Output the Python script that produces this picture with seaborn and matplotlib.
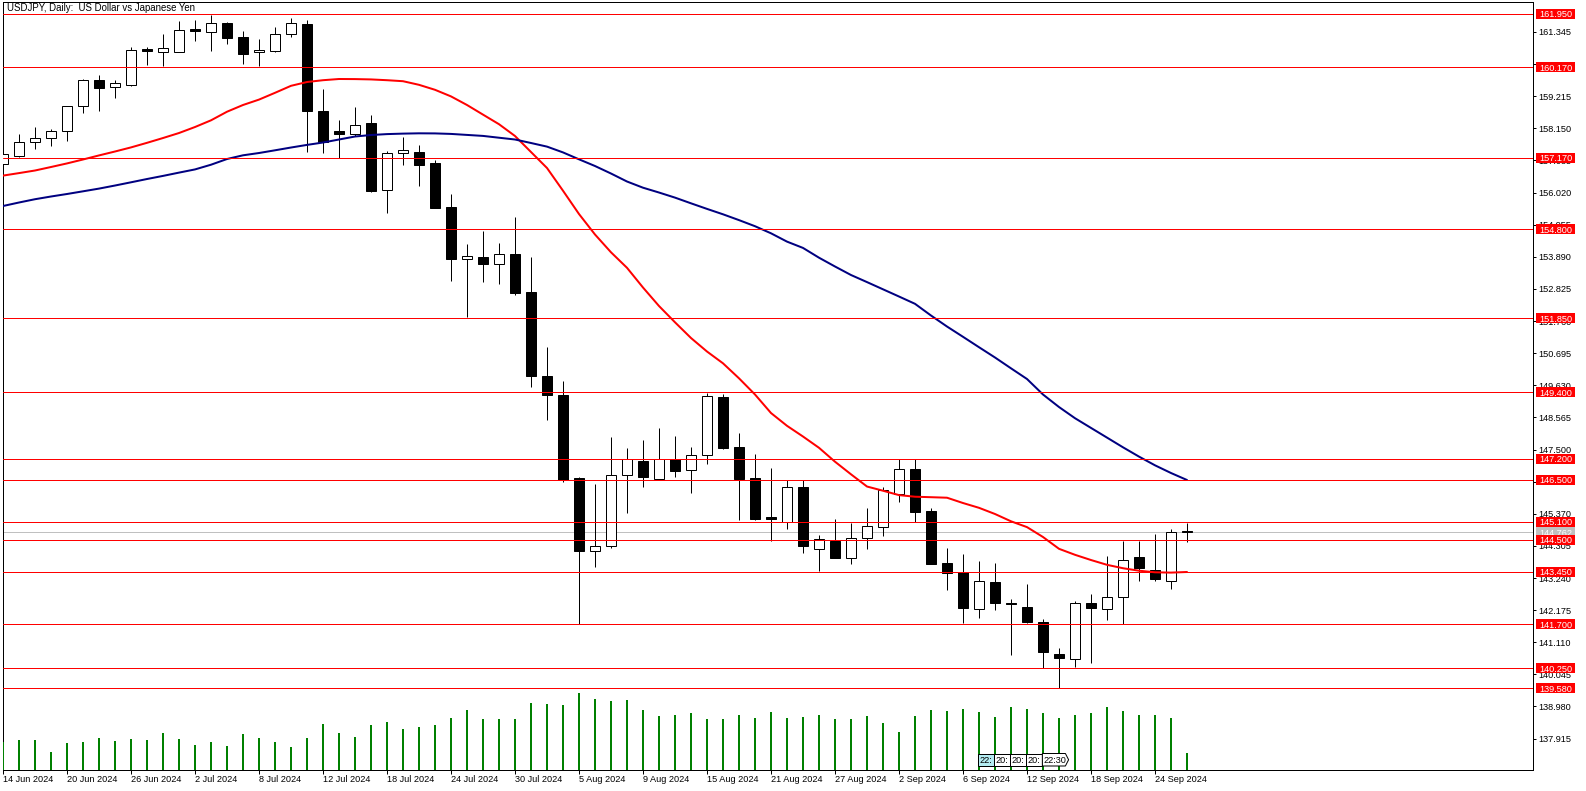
import numpy as np
import pandas as pd
import matplotlib
matplotlib.use("Agg")
import matplotlib.pyplot as plt
import matplotlib.patches as mpatches
from matplotlib.transforms import blended_transform_factory
import seaborn as sns

# ---------------- data ----------------
title = "USDJPY, Daily:  US Dollar vs Japanese Yen"

date_labels = ['14 Jun 2024', '20 Jun 2024', '26 Jun 2024', '2 Jul 2024', '8 Jul 2024',
               '12 Jul 2024', '18 Jul 2024', '24 Jul 2024', '30 Jul 2024', '5 Aug 2024',
               '9 Aug 2024', '15 Aug 2024', '21 Aug 2024', '27 Aug 2024', '2 Sep 2024',
               '6 Sep 2024', '12 Sep 2024', '18 Sep 2024', '24 Sep 2024']
date_label_bars = [0, 4, 8, 12, 16, 20, 24, 28, 32, 36, 40, 44, 48, 52, 56, 60, 64, 68, 72]

open_ = [156.96, 157.22, 157.69, 157.82, 158.05, 158.88, 159.74, 159.51, 159.60, 160.75,
         160.67, 160.69, 161.42, 161.35, 161.65, 161.18, 160.67, 160.72, 161.27, 161.61,
         158.72, 158.06, 157.97, 158.33, 156.11, 157.32, 157.36, 157.00, 155.54, 153.81,
         153.88, 153.64, 153.98, 152.72, 149.94, 149.31, 146.55, 144.13, 144.29, 146.65,
         147.12, 146.53, 147.19, 146.81, 147.31, 149.24, 147.58, 146.55, 145.23, 145.11,
         146.25, 144.19, 144.47, 143.89, 144.56, 144.92, 146.02, 146.84, 145.45, 143.74,
         143.45, 142.22, 143.10, 142.40, 142.28, 141.77, 140.71, 140.56, 142.41, 142.22,
         142.60, 143.93, 143.50, 143.15, 144.77]
high = [157.56, 157.95, 158.20, 158.12, 158.90, 159.80, 159.91, 159.75, 160.85, 160.84,
        161.28, 161.71, 161.74, 161.91, 161.67, 161.38, 161.11, 161.52, 161.82, 161.74,
        159.44, 158.43, 158.85, 158.59, 157.40, 157.86, 157.60, 157.10, 155.97, 154.31,
        154.76, 154.35, 155.21, 153.88, 150.91, 149.77, 146.58, 146.36, 147.92, 147.56,
        147.82, 148.21, 147.95, 147.58, 149.36, 149.33, 148.05, 147.35, 146.89, 146.49,
        146.49, 144.67, 145.20, 145.06, 145.56, 146.25, 147.19, 147.19, 145.55, 144.23,
        144.04, 143.79, 143.73, 142.53, 143.04, 141.87, 140.91, 142.48, 142.71, 143.97,
        144.48, 144.48, 144.71, 144.87, 145.07]
low = [156.83, 157.19, 157.46, 157.57, 157.74, 158.65, 158.73, 159.17, 159.56, 160.25,
       160.23, 160.69, 161.05, 160.72, 160.94, 160.29, 160.23, 160.69, 161.19, 157.37,
       157.34, 157.17, 157.90, 156.05, 155.35, 156.94, 156.25, 155.50, 153.10, 151.90,
       153.06, 153.00, 152.63, 149.58, 148.49, 146.41, 141.71, 143.61, 144.23, 145.41,
       146.27, 146.53, 146.60, 146.07, 147.03, 147.53, 145.17, 145.17, 144.46, 144.85,
       144.06, 143.47, 143.91, 143.69, 144.21, 144.64, 145.77, 145.11, 143.71, 142.85,
       141.76, 141.92, 142.18, 140.69, 141.74, 140.25, 139.58, 140.30, 140.43, 141.86,
       141.72, 143.15, 143.13, 142.89, 144.44]
close = [157.29, 157.69, 157.82, 158.05, 158.88, 159.74, 159.50, 159.64, 160.74, 160.72,
         160.80, 161.40, 161.38, 161.63, 161.15, 160.62, 160.74, 161.27, 161.63, 158.73,
         157.71, 157.97, 158.25, 156.07, 157.32, 157.42, 156.94, 155.52, 153.83, 153.91,
         153.66, 153.97, 152.70, 149.95, 149.32, 146.48, 144.13, 144.29, 146.65, 147.19,
         146.60, 147.19, 146.80, 147.31, 149.26, 147.56, 146.53, 145.21, 145.21, 146.25,
         144.31, 144.52, 143.91, 144.56, 144.95, 146.15, 146.84, 145.44, 143.71, 143.42,
         142.25, 143.13, 142.42, 142.37, 141.78, 140.80, 140.60, 142.40, 142.26, 142.60,
         143.83, 143.58, 143.22, 144.76, 144.762]
tick_volume = [28, 30, 30, 18, 27, 28, 32, 29, 31, 30,
               37, 31, 25, 28, 24, 36, 32, 28, 23, 32,
               46, 37, 33, 45, 48, 41, 43, 45, 52, 60,
               51, 51, 51, 67, 66, 65, 77, 71, 69, 70,
               60, 54, 55, 57, 51, 51, 55, 52, 58, 52,
               53, 55, 51, 51, 54, 47, 38, 54, 60, 59,
               61, 58, 53, 63, 61, 57, 52, 55, 57, 63,
               59, 55, 55, 52, 17]
ma_red = [156.582, 156.665, 156.751, 156.867, 156.986, 157.116, 157.251, 157.381, 157.517, 157.669,
          157.828, 157.994, 158.193, 158.415, 158.700, 158.923, 159.102, 159.327, 159.559, 159.685,
          159.745, 159.785, 159.782, 159.771, 159.745, 159.712, 159.592, 159.427, 159.208, 158.923,
          158.604, 158.286, 157.895, 157.364, 156.834, 156.081, 155.308, 154.629, 154.039, 153.525,
          152.871, 152.258, 151.718, 151.197, 150.749, 150.358, 149.861, 149.324, 148.710, 148.286,
          147.931, 147.557, 147.096, 146.678, 146.273, 146.134, 145.988, 145.935, 145.919, 145.902,
          145.726, 145.567, 145.362, 145.120, 144.927, 144.599, 144.208, 144.009, 143.836, 143.677,
          143.564, 143.482, 143.429, 143.419, 143.439]
ma_navy = [155.574, 155.690, 155.799, 155.889, 155.972, 156.061, 156.151, 156.253, 156.360, 156.469,
           156.572, 156.681, 156.787, 156.943, 157.132, 157.255, 157.331, 157.421, 157.513, 157.600,
           157.679, 157.779, 157.878, 157.928, 157.958, 157.974, 157.984, 157.981, 157.964, 157.931,
           157.898, 157.838, 157.779, 157.663, 157.543, 157.351, 157.122, 156.900, 156.651, 156.386,
           156.181, 156.021, 155.852, 155.663, 155.478, 155.299, 155.106, 154.904, 154.669, 154.393,
           154.184, 153.860, 153.568, 153.286, 153.051, 152.812, 152.573, 152.331, 151.943, 151.578,
           151.237, 150.892, 150.551, 150.192, 149.838, 149.324, 148.909, 148.538, 148.216, 147.895,
           147.573, 147.265, 146.976, 146.721, 146.489]
levels = [161.950, 160.170, 157.170, 154.800, 151.850, 149.400, 147.200, 146.500,
          145.100, 144.500, 143.450, 141.700, 140.250, 139.580]
bid_price = 144.762
price_ticks = [137.915, 138.980, 140.045, 141.110, 142.175, 143.240, 144.305, 145.370,
               146.435, 147.500, 148.565, 149.630, 150.695, 151.760, 152.825, 153.890,
               154.955, 156.020, 157.085, 158.150, 159.215, 160.280, 161.345]
event_labels = ['22:', '20:', '20:', '20:', '22:30']
event_bars = [61, 62, 63, 64, 65]

# ---------------- style ----------------
sns.set_theme(style="white")
plt.rcParams['font.family'] = ['Liberation Sans', 'DejaVu Sans']
plt.rcParams['axes.edgecolor'] = 'black'
plt.rcParams['axes.linewidth'] = 0.75
FS = 6.6
W, H = 1586, 791
PX = 72 / 100.0  # points per pixel

fig = plt.figure(figsize=(W / 100, H / 100), dpi=100)
fig.patch.set_facecolor('white')
ax = fig.add_axes([3 / W, 21 / H, 1530 / W, 768 / H])
ax.set_facecolor('white')
XLIM = (0, 1530 / 16)
YLIM = (136.874, 162.338)
ax.set_xlim(*XLIM)
ax.set_ylim(*YLIM)

# volume overlay axes (create first: twinx resets tick side of ax)
ax2 = ax.twinx()
ax2.set_ylim(0, 768)
ax2.set_xlim(*XLIM)
ax2.set_yticks([])
for sp in ax2.spines.values():
    sp.set_visible(False)
ax2.grid(False)

df = pd.DataFrame({'bar': np.arange(len(close)), 'open': open_, 'high': high,
                   'low': low, 'close': close, 'vol': tick_volume,
                   'ma_red': ma_red, 'ma_navy': ma_navy})

# bid line
ax.axhline(bid_price, color='#c0c0c0', lw=1 * PX, zorder=1)

# candles
ax.vlines(df['bar'], df['low'], df['high'], color='black', lw=1 * PX, zorder=2)
bull = df['close'] >= df['open']
bottom = np.minimum(df['open'], df['close'])
height = np.maximum((df['close'] - df['open']).abs(), 0.05)
ax.bar(df['bar'][bull], height[bull], bottom=bottom[bull], width=0.6,
       color='white', edgecolor='black', linewidth=1 * PX, zorder=3)
ax.bar(df['bar'][~bull], height[~bull], bottom=bottom[~bull], width=0.6,
       color='black', edgecolor='black', linewidth=1 * PX, zorder=3)

# moving averages
sns.lineplot(data=df, x='bar', y='ma_red', color='#ff0000', lw=2 * PX, ax=ax,
             zorder=4, legend=False)
sns.lineplot(data=df, x='bar', y='ma_navy', color='#000080', lw=2 * PX, ax=ax,
             zorder=4, legend=False)

for lv in levels:
    ax.axhline(lv, color='#ff0000', lw=1 * PX, zorder=5)

ax.set_xlim(*XLIM)
ax.set_ylim(*YLIM)
ax.set_xlabel('')
ax.set_ylabel('')

# price axis on the right
ax.yaxis.tick_right()
ax.yaxis.set_label_position('right')
ax.set_yticks(price_ticks)
ax.set_yticklabels([f'{t:.3f}' for t in price_ticks])
ax.tick_params(axis='y', which='both', left=False, labelleft=False, right=True,
               labelright=True, length=3 * PX, width=1 * PX, pad=2.5 * PX,
               labelsize=FS, colors='black', direction='out')
ax.set_xticks(date_label_bars)
ax.set_xticklabels(date_labels)
ax.tick_params(axis='x', bottom=True, length=4 * PX, width=1 * PX, pad=1.5 * PX,
               labelsize=FS, colors='black', direction='out')
for lab in ax.get_xticklabels():
    lab.set_horizontalalignment('left')
for sp in ax.spines.values():
    sp.set_visible(True)
    sp.set_color('black')
    sp.set_linewidth(1 * PX)
ax.grid(False)

# right-side price labels
bt = blended_transform_factory(ax.transAxes, ax.transData)
ppx = (YLIM[1] - YLIM[0]) / 768.0  # price per pixel
x0 = (1536 - 3) / 1530
bw = 39 / 1530
for lv in levels:
    ax.add_patch(mpatches.Rectangle((x0, lv - 5 * ppx), bw, 10 * ppx, transform=bt,
                                    facecolor='#ff0000', edgecolor='none',
                                    clip_on=False, zorder=10))
    ax.text((1539 - 3) / 1530, lv, f'{lv:.3f}', transform=bt, color='white',
            fontsize=FS, ha='left', va='center_baseline', clip_on=False, zorder=11)
ax.add_patch(mpatches.Rectangle((x0, bid_price - 5 * ppx), bw, 10 * ppx, transform=bt,
                                facecolor='#c0c0c0', edgecolor='none',
                                clip_on=False, zorder=9))
ax.text((1539 - 3) / 1530, bid_price, f'{bid_price:.3f}', transform=bt, color='white',
        fontsize=FS, ha='left', va='center_baseline', clip_on=False, zorder=9.5)

# title
ax.text(4 / 1530, 1 - 1.3 / 768, title, transform=ax.transAxes, fontsize=FS + 0.3,
        ha='left', va='top', color='black', zorder=12)

# volume bars
ax2.vlines(df['bar'], 0, df['vol'], color='#008000', lw=2 * PX, zorder=2)

# event markers
y_lo, y_hi = 4.0, 16.5
for k, (lab, b) in enumerate(zip(event_labels, event_bars)):
    left = b - 0.04
    if k < len(event_labels) - 1:
        right = b + 0.96
        poly = [(left, y_lo), (right, y_lo), (right, y_hi), (left, y_hi)]
    else:
        right = b + 1.6
        poly = [(left, y_lo), (right - 0.2, y_lo), (right, (y_lo + y_hi) / 2),
                (right - 0.2, y_hi), (left, y_hi)]
    fc = '#b4ecf2' if k == 0 else 'white'
    ax2.add_patch(mpatches.Polygon(poly, closed=True, facecolor=fc, edgecolor='black',
                                   linewidth=1 * PX, zorder=5))
    ax2.text(left + 0.08, (y_lo + y_hi) / 2, lab, fontsize=FS, ha='left',
             va='center_baseline', color='black', zorder=6)

fig.savefig('out.png', dpi=100, facecolor='white')
